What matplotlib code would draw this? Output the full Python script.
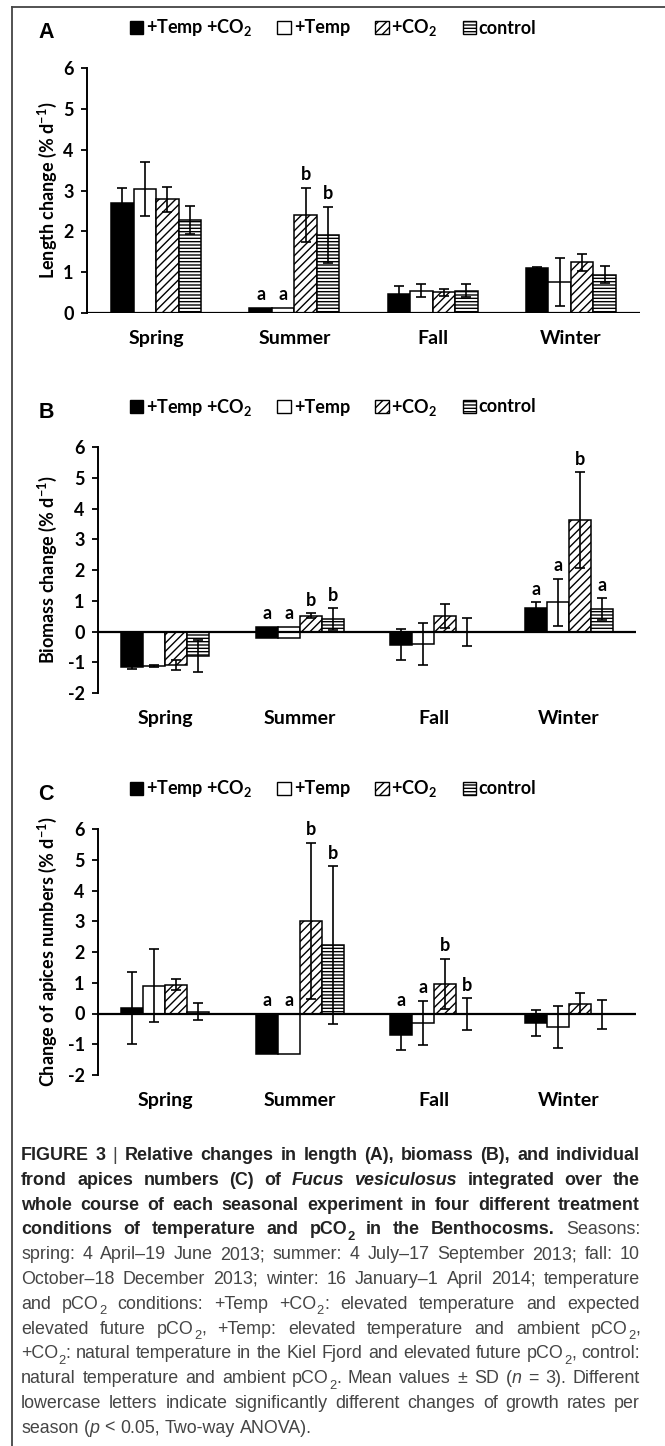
import numpy as np
import matplotlib.pyplot as plt
from matplotlib.patches import Patch
from matplotlib.lines import Line2D

plt.rcParams['font.family'] = ['Lato', 'DejaVu Sans']
plt.rcParams['font.weight'] = 'bold'
plt.rcParams['axes.unicode_minus'] = False
plt.rcParams['hatch.linewidth'] = 1.0
plt.rcParams['mathtext.fontset'] = 'custom'
plt.rcParams['mathtext.rm'] = 'Lato:bold'
plt.rcParams['mathtext.it'] = 'Lato:bold:italic'
plt.rcParams['mathtext.bf'] = 'Lato:bold'

seasons = ["Spring", "Summer", "Fall", "Winter"]
treatments = [r"+Temp +CO$_2$", "+Temp", r"+CO$_2$", "control"]

# rows = treatments (+Temp+CO2, +Temp, +CO2, control), columns = seasons
length_mean = [[2.69, 0.13, 0.47, 1.10],
               [3.04, 0.13, 0.55, 0.76],
               [2.78, 2.40, 0.51, 1.24],
               [2.28, 1.91, 0.55, 0.94]]
length_sd = [[0.36, 0.00, 0.20, 0.02],
             [0.66, 0.00, 0.17, 0.59],
             [0.30, 0.66, 0.09, 0.21],
             [0.34, 0.69, 0.15, 0.20]]
length_low = [[0, -0.14, 0, 0],
              [0, -0.14, 0, 0],
              [0, 0, 0, 0],
              [0, 0, 0, 0]]
length_letters = [["", "a", "", ""],
                  ["", "a", "", ""],
                  ["", "b", "", ""],
                  ["", "b", "", ""]]

biomass_mean = [[-1.14, 0.16, -0.43, 0.76],
                [-1.11, 0.16, -0.40, 0.95],
                [-1.09, 0.52, 0.51, 3.62],
                [-0.81, 0.40, -0.02, 0.72]]
biomass_sd = [[0.08, 0.00, 0.51, 0.19],
              [0.03, 0.00, 0.68, 0.77],
              [0.17, 0.07, 0.39, 1.56],
              [0.52, 0.35, 0.45, 0.36]]
biomass_low = [[0, -0.22, 0, 0],
               [0, -0.22, 0, 0],
               [0, 0, 0, 0],
               [0, 0, 0, 0]]
biomass_letters = [["", "a", "", "a"],
                   ["", "a", "", "a"],
                   ["", "b", "", "b"],
                   ["", "b", "", "a"]]

apices_mean = [[0.18, -1.33, -0.70, -0.30],
               [0.91, -1.33, -0.30, -0.43],
               [0.94, 3.02, 0.97, 0.32],
               [0.06, 2.22, -0.03, -0.03]]
apices_sd = [[1.17, 0.00, 0.50, 0.42],
             [1.20, 0.00, 0.72, 0.69],
             [0.18, 2.54, 0.81, 0.35],
             [0.27, 2.57, 0.52, 0.46]]
apices_low = [[0, 0, 0, 0],
              [0, 0, 0, 0],
              [0, 0, 0, 0],
              [0, 0, 0, 0]]
apices_letters = [["", "a", "a", ""],
                  ["", "a", "a", ""],
                  ["", "b", "b", ""],
                  ["", "b", "b", ""]]

W, H = 665, 1446
fig = plt.figure(figsize=(W / 100, H / 100), dpi=100)
fig.patch.set_facecolor('white')

faces = ['black', 'white', 'white', 'white']
hatches = [None, None, '////', '-----']
bw = 0.163

panels = [
    ("A", (87, 68, 640, 313), length_mean, length_sd, length_low, length_letters,
     "Length change (% d$^{-1}$)", 0),
    ("B", (98, 447, 636, 693), biomass_mean, biomass_sd, biomass_low, biomass_letters,
     "Biomass change (% d$^{-1}$)", -2),
    ("C", (98, 829, 636, 1075), apices_mean, apices_sd, apices_low, apices_letters,
     "Change of apices numbers (% d$^{-1}$)", -2),
]

x = np.arange(len(seasons))
for tag, (l, t, r, b), mean, sd, low, letters, ylab, ymin in panels:
    ax = fig.add_axes([l / W, 1 - b / H, (r - l) / W, (b - t) / H])
    for i in range(4):
        xi = x + (i - 1.5) * bw
        m = np.array(mean[i])
        lo = np.array(low[i], dtype=float)
        s = np.array(sd[i])
        ax.bar(xi, m - lo, bottom=lo, width=bw, color=faces[i], edgecolor='black',
               linewidth=1.1, hatch=hatches[i], zorder=2)
        ok = s > 0
        ax.errorbar(xi[ok], m[ok], yerr=s[ok], fmt='none', ecolor='black',
                    elinewidth=1.2, capsize=3.5, capthick=1.2, zorder=5)
        for j in range(4):
            if letters[i][j]:
                top = max(m[j] + s[j], m[j], 0)
                ax.annotate(letters[i][j], (xi[j], top), xytext=(0, 5.5),
                            textcoords='offset points', ha='center', va='baseline',
                            fontsize=13)
    ax.axhline(0, color='black', lw=1.6, zorder=4)
    ax.set_xlim(-0.5, 3.5)
    ax.set_ylim(ymin, 6)
    ax.set_yticks(range(ymin, 7))
    ax.set_xticks(x)
    ax.set_xticklabels(seasons, fontsize=14)
    ax.tick_params(axis='x', length=0, pad=12)
    ax.tick_params(axis='y', direction='out', length=4.5, width=1.3, pad=5, labelsize=13)
    for sp in ['top', 'right', 'bottom']:
        ax.spines[sp].set_visible(False)
    ax.spines['left'].set_linewidth(1.4)
    ax.set_facecolor('none')
    fig.text(47 / W, 1 - (t + b) / 2 / H, ylab, rotation=90, ha='center', va='center',
             fontsize=13)
    fig.text(46 / W, 1 - (t - 35) / H, tag, ha='center', va='center', fontsize=15.5,
             family='Liberation Sans', weight='bold')
    handles = [Patch(facecolor=faces[i], edgecolor='black', hatch=hatches[i], lw=1.0)
               for i in range(4)]
    fig.legend(handles, treatments, loc='center', bbox_to_anchor=(333 / W, 1 - (t - 40) / H),
               ncol=4, frameon=False, fontsize=13, handlelength=0.75, handleheight=0.75,
               handletextpad=0.15, columnspacing=1.4, borderpad=0, borderaxespad=0)

# frame lines
fig.add_artist(Line2D([12 / W, 12 / W], [0, 1 - 7 / H], transform=fig.transFigure,
                      color='#444444', lw=1.3))
fig.add_artist(Line2D([12 / W, 1], [1 - 7 / H, 1 - 7 / H], transform=fig.transFigure,
                      color='#444444', lw=1.3))

# caption
cap_lines = [
    [("FIGURE 3", "b"), (" | ", "r"), ("Relative changes in length (A), biomass (B), and individual", "b")],
    [("frond apices numbers (C) of ", "b"), ("Fucus vesiculosus", "bi"), (" integrated over the", "b")],
    [("whole course of each seasonal experiment in four different treatment", "b")],
    [("conditions of temperature and pCO", "b"), ("2", "bs"), (" in the Benthocosms.", "b"), (" Seasons:", "r")],
    [("spring: 4 April–19 June 2013; summer: 4 July–17 September 2013; fall: 10", "r")],
    [("October–18 December 2013; winter: 16 January–1 April 2014; temperature", "r")],
    [("and pCO", "r"), ("2", "rs"), (" conditions: +Temp +CO", "r"), ("2", "rs"),
     (": elevated temperature and expected", "r")],
    [("elevated future pCO", "r"), ("2", "rs"), (", +Temp: elevated temperature and ambient pCO", "r"),
     ("2", "rs"), (",", "r")],
    [("+CO", "r"), ("2", "rs"), (": natural temperature in the Kiel Fjord and elevated future pCO", "r"),
     ("2", "rs"), (", control:", "r")],
    [("natural temperature and ambient pCO", "r"), ("2", "rs"), (". Mean values ± SD (", "r"),
     ("n", "i"), (" = 3). Different", "r")],
    [("lowercase letters indicate significantly different changes of growth rates per", "r")],
    [("season (", "r"), ("p", "i"), (" < 0.05, Two-way ANOVA).", "r")],
]


def style_kw(st, size):
    kw = dict(family='Liberation Sans', ha='left', va='baseline')
    kw['weight'] = 'bold' if st.startswith('b') else 'normal'
    kw['style'] = 'italic' if 'i' in st else 'normal'
    kw['color'] = '#222222' if st.startswith('b') else '#454545'
    kw['fontsize'] = size * 0.72 if st.endswith('s') else size
    return kw


renderer = fig.canvas.get_renderer()


def build_words(runs):
    words = [[]]
    for text, st in runs:
        for k, part in enumerate(text.split(" ")):
            if k:
                words.append([])
            if part:
                words[-1].append((part, st))
    return [w for w in words if w]


def measure(words, size):
    out = []
    for w in words:
        pieces = []
        for part, st in w:
            tx = fig.text(0, 0, part, **style_kw(st, size))
            pieces.append((tx, tx.get_window_extent(renderer).width, st))
        out.append(pieces)
    return out


x0, x1 = 21, 640
base = 12.0
fits = []
for runs in cap_lines:
    arts = measure(build_words(runs), base)
    tot = sum(wd for p in arts for _, wd, _ in p) + (len(arts) - 1) * base * 0.25 * 100 / 72
    fits.append(base * (x1 - x0) * 0.99 / tot)
    for p in arts:
        for tx, _, _ in p:
            tx.remove()
# regular lines set the size; bold lines shrink only if they would overflow
size = min(fits[4:-1])

y_first, dy = 1160, 24.8
for li, runs in enumerate(cap_lines):
    sz = min(size, fits[li])
    arts = measure(build_words(runs), sz)
    widths = [sum(wd for _, wd, _ in p) for p in arts]
    if li == len(cap_lines) - 1:
        gap = sz * 0.28 * 100 / 72
    else:
        gap = (x1 - x0 - sum(widths)) / (len(arts) - 1)
    yb = y_first + li * dy
    xc = x0
    for pieces, ww in zip(arts, widths):
        xx = xc
        for tx, wd, st in pieces:
            off = sz * 0.3 * 100 / 72 if st.endswith('s') else 0
            tx.set_position((xx / W, 1 - (yb + off) / H))
            xx += wd
        xc += ww + gap

fig.savefig("out.png", dpi=100, facecolor='white')
